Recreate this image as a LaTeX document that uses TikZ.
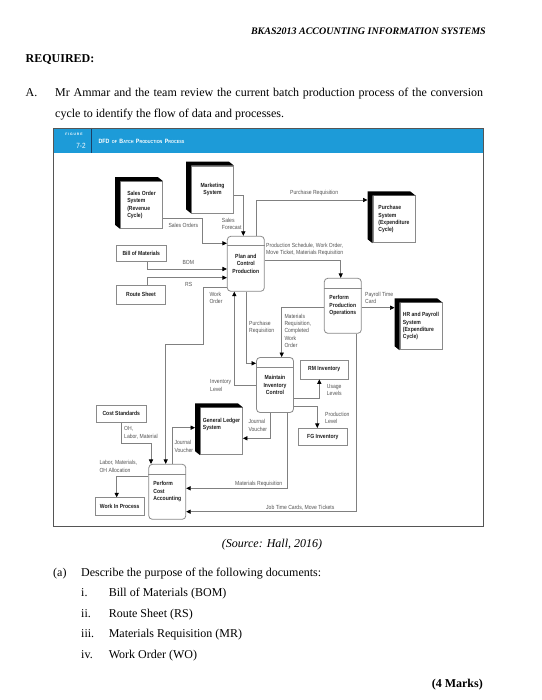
\documentclass[tikz,border=0pt]{standalone}
\usepackage{fontspec}
\setmainfont{Liberation Serif}
\newfontfamily\dfdfont[FakeStretch=0.86]{Liberation Sans}
\newfontfamily\dfdspaced[LetterSpace=25]{Liberation Sans}
\usetikzlibrary{arrows.meta}
\definecolor{figblue}{HTML}{1D9BD8}
\definecolor{figdiv}{HTML}{1B3F66}
\definecolor{framecol}{HTML}{555555}
\definecolor{lncol}{HTML}{808080}
\definecolor{boxcol}{HTML}{8A8A8A}
\definecolor{lblcol}{HTML}{555555}
\definecolor{txtcol}{HTML}{1E1E1E}
\newcommand{\dfdsc}[2]{{\fontsize{6.2}{6}\selectfont #1}{\fontsize{4.4}{4}\selectfont #2}}
\tikzset{
  lblfont/.style={font=\dfdfont\fontsize{5.9}{7.4}\selectfont},
  boldfont/.style={font=\dfdfont\bfseries\fontsize{5.9}{7.4}\selectfont},
  flow/.style={draw=lncol, line width=0.7pt, -{Triangle[color=black,length=4.5pt,width=4.2pt]}},
  lbl/.style={lblfont, text=lblcol, inner sep=0pt, align=left, anchor=west},
  store/.style={draw=boxcol, line width=0.8pt, fill=white, boldfont, text=txtcol, inner sep=0pt, align=center},
  proc/.style={draw=boxcol, line width=0.8pt, fill=white, rounded corners=3.5pt, boldfont, text=txtcol, inner sep=0pt, minimum width=37pt, minimum height=55pt},
  entity/.style={draw=boxcol, line width=0.8pt, fill=white, boldfont, text=txtcol, inner sep=0pt, minimum width=42pt, minimum height=47pt},
  body/.style={font=\fontsize{12}{14}\selectfont, inner sep=0pt, anchor=base west},
}
\begin{document}
\begin{tikzpicture}[x=1pt, y=-1pt]
\useasboundingbox (0,0) rectangle (541,700);
\fill[white] (0,0) rectangle (541,700);

% ---------- page text ----------
\node[anchor=base east, inner sep=0pt, font=\bfseries\itshape\fontsize{10}{12}\selectfont] (hdr) at (486,35) {BKAS2013 ACCOUNTING INFORMATION SYSTEMS};
\node[body, font=\bfseries\fontsize{12}{14}\selectfont] (req) at (25.5,63) {REQUIRED:};
\node[body] (qa) at (25.5,96.5) {A.};
\node[body] (l1) at (55,96.5) {\makebox[428pt][s]{Mr Ammar and the team review the current batch production process of the conversion}};
\node[body] (l2) at (55,117.5) {cycle to identify the flow of data and processes.};

% ---------- figure frame ----------
\fill[figblue] (53.3,128) rectangle (483,153);
\draw[figdiv, line width=0.9pt] (91.7,128) -- (91.7,153);
\draw[framecol, line width=0.8pt] (53.3,128) rectangle (483,526.7);
\node[inner sep=0pt, text=white, font=\dfdspaced\bfseries\fontsize{3.4}{4}\selectfont] (figw) at (74,134) {FIGURE};
\node[inner sep=0pt, text=white, font=\dfdfont\fontsize{7.5}{8}\selectfont] (fignum) at (81,145.5) {7-2};
\node[anchor=west, inner sep=0pt, text=white, font=\dfdfont\bfseries] (figtitle) at (98.3,141.7) {\dfdsc{DFD}{} \dfdsc{}{OF} \dfdsc{B}{ATCH} \dfdsc{P}{RODUCTION} \dfdsc{P}{ROCESS}};

% ---------- external entities ----------
\node[entity, align=left] (so) at (141.5,205) {Sales Order\\System\\(Revenue\\Cycle)};
\node[entity, align=center] (mk) at (212.5,189.5) {Marketing\\System};
\node[entity, align=left] (ps) at (393.9,219.3) {Purchase\\System\\(Expenditure\\Cycle)};
\node[entity, align=left] (hr) at (420.9,326.3) {HR and Payroll\\System\\(Expenditure\\Cycle)};
\node[entity, align=left] (gl) at (221.5,431.3) {General Ledger\\System\\[7.4pt]};
\foreach \n in {so,mk,ps,hr,gl}{
  \fill[black] (\n.south west) -- ++(-5,-4) -- ([shift={(-5,-4)}]\n.north west) -- ([shift={(-5,-4)}]\n.north east) -- (\n.north east) -- (\n.north west) -- cycle;
  \coordinate (\n-sh) at ([xshift=-5pt]\n.west);
}

% ---------- data stores ----------
\node[store, minimum width=50.7pt, minimum height=16.7pt] (bom) at (141.3,253.3) {Bill of Materials};
\node[store, minimum width=49.7pt, minimum height=19.3pt] (rs) at (140.9,294.7) {Route Sheet};
\node[store, minimum width=48.3pt, minimum height=19pt] (rm) at (324.2,369.5) {RM Inventory};
\node[store, minimum width=49pt, minimum height=16.7pt] (fg) at (322.8,436.7) {FG Inventory};
\node[store, minimum width=49.3pt, minimum height=17.7pt] (cs) at (121.3,413.8) {Cost Standards};
\node[store, minimum width=49.3pt, minimum height=17.3pt] (wip) at (119.7,506.3) {Work In Process};

% ---------- processes ----------
\node[proc, align=center] (plan) at (245.8,263.8) {Plan and\\Control\\Production};
\node[proc, align=left] (ppo) at (342.8,305.8) {Perform\\Production\\Operations};
\node[proc, align=center] (mic) at (275,385) {Maintain\\Inventory\\Control};
\node[proc, align=left] (pca) at (167.3,491.8) {Perform\\Cost\\Accounting};
\foreach \n in {plan,ppo,mic,pca}{
  \draw[boxcol, line width=0.8pt] ([yshift=-10pt]\n.north west) -- ([yshift=-10pt]\n.north east);
}

% ---------- data flows ----------
\draw[flow] (so.east |- 0,218.3) -| (202.7,243.3) -- (plan.west |- 0,243.3);
\draw[flow] (mk.east |- 0,195) -| (plan.north -| 243.3,0);
\draw[flow] (plan.north -| 256.7,0) |- (ps-sh |- 0,200);
\draw[flow] (plan.east |- 0,260) -| (ppo.north -| 340.7,0);
\draw[flow] (bom.south -| 147.3,0) |- (plan.west |- 0,269);
\draw[flow] (rs.north -| 147.3,0) |- (plan.west |- 0,277.7);
\draw[flow] (plan.west |- 0,287.7) -| (203.3,344.3) -| (pca.north -| 165.7,0);
\draw[flow] (mic.west |- 0,385) -| (plan.south -| 234.3,0);
\draw[flow] (plan.south -| 246.7,0) |- (mic.west |- 0,363.3);
\draw[flow] (ppo.west |- 0,307.7) -| (mic.north -| 281.7,0);
\draw[flow] (ppo.east |- 0,307.7) -- (hr-sh |- 0,307.7);
\draw[flow] (mic.east |- 0,398.3) -| (rm.south -| 319.3,0);
\draw[flow] (mic.east |- 0,406.7) -| (fg.north -| 317.3,0);
\draw[flow] (mic.south -| 270,0) |- (gl.east |- 0,438.3);
\draw[flow] (mic.south -| 287.7,0) |- (pca.east |- 0,488.3);
\draw[flow] (ppo.south -| 356.7,0) |- (pca.east |- 0,511.7);
\draw[flow] (pca.north -| 172.7,0) |- (gl-sh |- 0,427.7);
\draw[flow] (cs.south -| 121.7,0) |- (151,443.3) -- (pca.north -| 151,0);
\draw[flow] (pca.west |- 0,476.7) -| (wip.north -| 116.7,0);

% ---------- flow labels ----------
\node[lbl] (t1) at (168.3,225) {Sales Orders};
\node[lbl] (t2) at (221.7,223.7) {Sales\\Forecast};
\node[lbl] (t3) at (290,193.3) {Purchase Requisition};
\node[lbl] (t4) at (266,249.2) {Production Schedule, Work Order,\\Move Ticket, Materials Requisition};
\node[lbl] (t5) at (182.3,262.3) {BOM};
\node[lbl] (t6) at (185,284.3) {RS};
\node[lbl] (t7) at (209.3,298) {Work\\Order};
\node[lbl] (t8) at (210,385.3) {Inventory\\Level};
\node[lbl] (t9) at (249,327.7) {Purchase\\Requisition};
\node[lbl] (t10) at (284.3,330.7) {Materials\\Requisition,\\Completed\\Work\\Order};
\node[lbl] (t11) at (365,297.8) {Payroll Time\\Card};
\node[lbl] (t12) at (326.7,390) {Usage\\Levels};
\node[lbl] (t13) at (325,418) {Production\\Level};
\node[lbl] (t14) at (248.3,425.3) {Journal\\Voucher};
\node[lbl] (t15) at (235,484) {Materials Requisition};
\node[lbl] (t16) at (266,507.3) {Job Time Cards, Move Tickets};
\node[lbl] (t17) at (174.3,446.2) {Journal\\Voucher};
\node[lbl] (t18) at (124,433) {OH,\\Labor, Material};
\node[lbl] (t19) at (99.3,466.3) {Labor, Materials,\\OH Allocation};

% ---------- text below figure ----------
\node[anchor=base, inner sep=0pt, font=\itshape\fontsize{12}{14}\selectfont] (src) at (272,547) {(Source: Hall, 2016)};
\node[body] (qa2) at (53,576) {(a)};
\node[body] (qd) at (81,576) {Describe the purpose of the following documents:};
\node[body] (n1) at (81,596.5) {i.};
\node[body] (i1) at (108.6,596.5) {Bill of Materials (BOM)};
\node[body] (n2) at (81,617) {ii.};
\node[body] (i2) at (108.6,617) {Route Sheet (RS)};
\node[body] (n3) at (81,637.5) {iii.};
\node[body] (i3) at (108.6,637.5) {Materials Requisition (MR)};
\node[body] (n4) at (81,658) {iv.};
\node[body] (i4) at (108.6,658) {Work Order (WO)};
\node[anchor=base east, inner sep=0pt, font=\bfseries\fontsize{12}{14}\selectfont] (marks) at (483,687.5) {(4 Marks)};
\end{tikzpicture}
\end{document}
